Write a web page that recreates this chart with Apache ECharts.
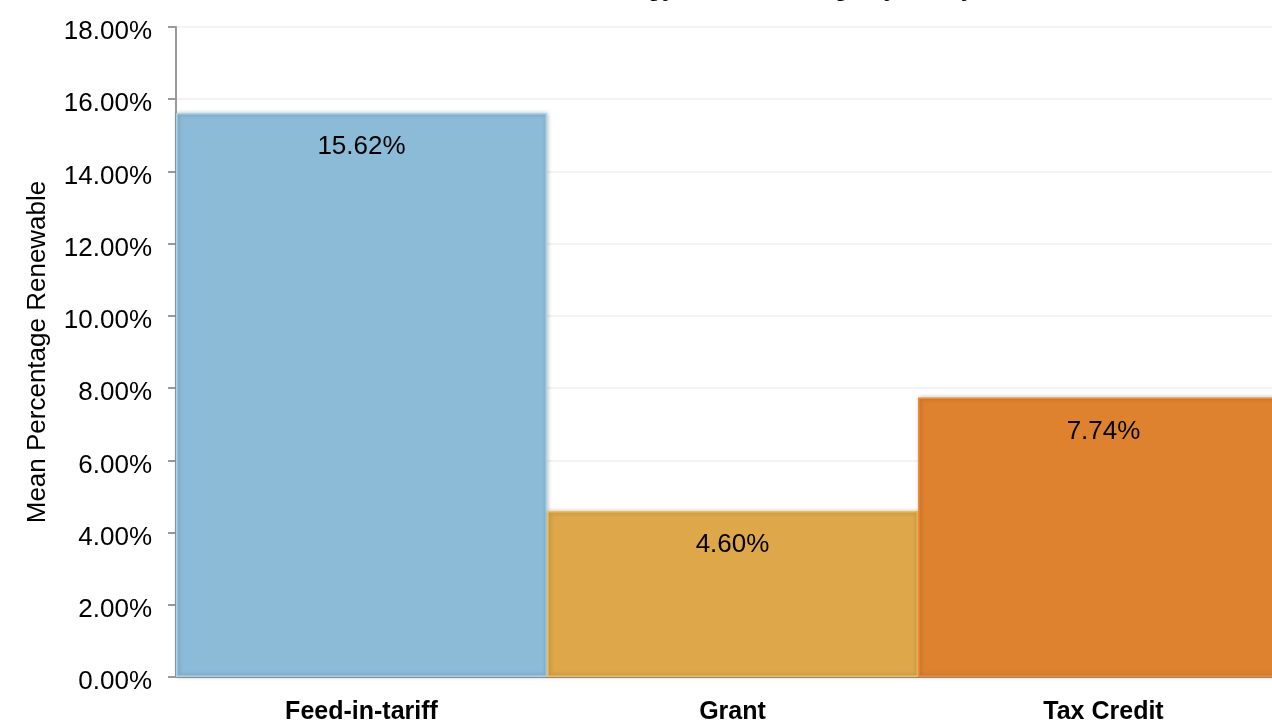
<!DOCTYPE html>
<html>
<head>
<meta charset="utf-8">
<script src="https://cdn.jsdelivr.net/npm/echarts@6/dist/echarts.min.js"></script>
<style>
  html, body { margin: 0; padding: 0; background: #ffffff; }
  #chart { width: 1272px; height: 723px; }
</style>
</head>
<body>
<div id="chart"></div>
<script>
// Policy types and their mean renewable share (percent)
const categories = ['Feed-in-tariff', 'Grant', 'Tax Credit'];
const meanRenewable = [15.62, 4.60, 7.74];
const barColors = ['#8bbbd6', '#dda74a', '#df822f'];
const barEdges = ['#a9d3ec', '#f2bd5c', '#f08c34'];

const yMin = 0, yMax = 18, yStep = 2;
const titleText = 'Renewable Energy Use Percentage by Policy';
const yAxisTitle = 'Mean Percentage Renewable';

const FONT = '"Liberation Sans", Arial, sans-serif';

const chart = echarts.init(document.getElementById('chart'));

chart.setOption({
  animation: false,
  backgroundColor: '#ffffff',
  title: {
    text: titleText,
    left: 713,
    textAlign: 'center',
    top: -28,
    textStyle: { fontFamily: FONT, fontSize: 24, fontWeight: 'bold', color: '#000' }
  },
  // the plot runs a little past the right edge of the canvas
  grid: {
    left: 176, width: 1113, top: 27, bottom: 46,
    containLabel: false,
    outerBoundsMode: 'none'
  },
  xAxis: {
    type: 'category',
    data: categories,
    axisLine: { show: true, lineStyle: { color: '#9a9a9a', width: 2 } },
    axisTick: { show: false },
    axisLabel: {
      fontFamily: FONT, fontSize: 25, fontWeight: 'bold', color: '#000', margin: 23
    }
  },
  yAxis: {
    type: 'value',
    min: yMin, max: yMax, interval: yStep,
    name: yAxisTitle,
    nameLocation: 'middle',
    nameGap: 125,
    nameRotate: 90,
    nameTextStyle: { fontFamily: FONT, fontSize: 26, color: '#000' },
    axisLine: { show: true, lineStyle: { color: '#9a9a9a', width: 2 } },
    axisTick: { show: true, length: 8, lineStyle: { color: '#9a9a9a', width: 2 } },
    splitLine: { show: true, lineStyle: { color: '#f3f3f3', width: 2 } },
    axisLabel: {
      fontFamily: FONT, fontSize: 26, color: '#000', margin: 24,
      verticalAlign: 'top',
      lineHeight: 10,
      formatter: v => v.toFixed(2) + '%'
    }
  },
  series: [{
    type: 'bar',
    barCategoryGap: '0%',
    data: meanRenewable.map((v, i) => ({
      value: v,
      itemStyle: {
        color: barColors[i],
        borderColor: barEdges[i],
        borderWidth: 1.5,
        shadowColor: 'rgba(0,0,0,0.25)',
        shadowBlur: 4,
        shadowOffsetX: 1
      }
    })),
    label: {
      show: true,
      position: 'insideTop',
      distance: 21,
      fontFamily: FONT, fontSize: 26, color: '#000',
      formatter: p => p.value.toFixed(2) + '%'
    }
  }]
});
</script>
</body>
</html>
